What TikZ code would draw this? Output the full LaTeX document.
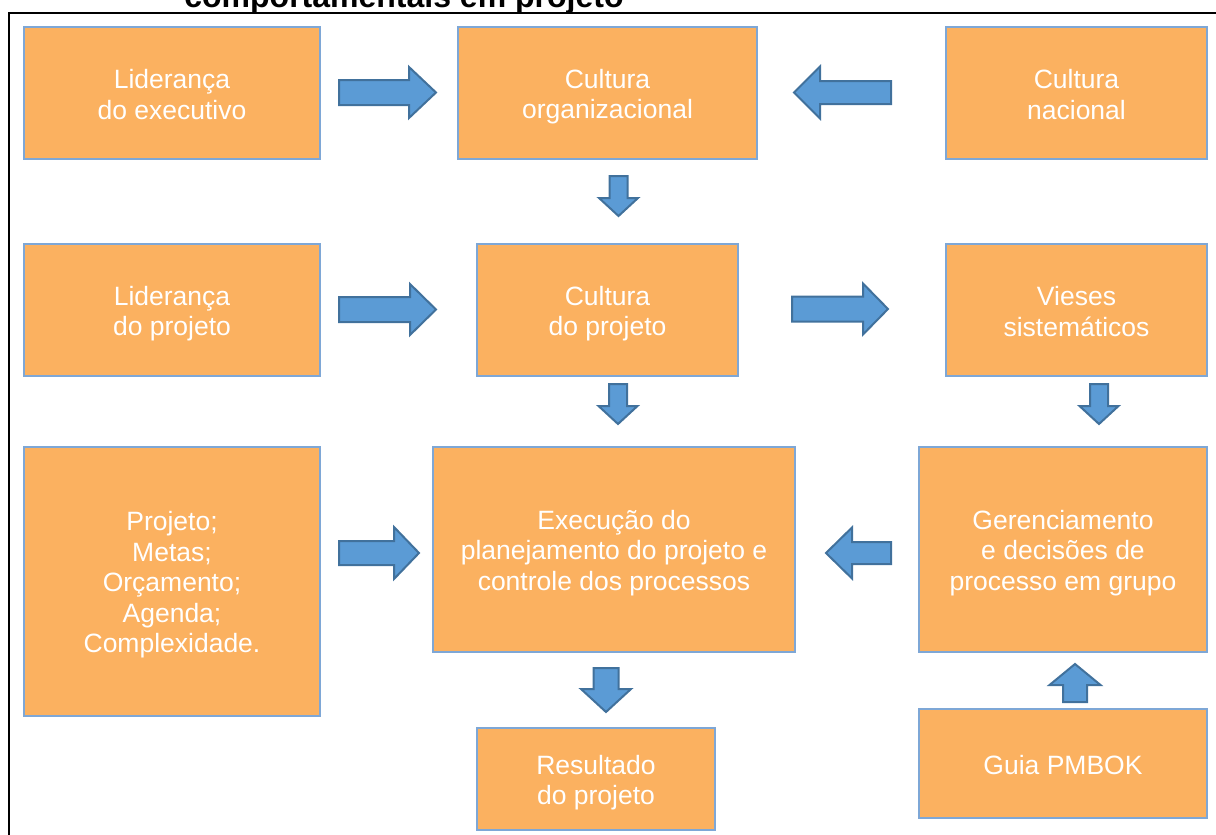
\documentclass[tikz,border=0pt]{standalone}
\usepackage{fontspec}
\setmainfont{Liberation Sans}
\usetikzlibrary{calc}

\definecolor{boxfill}{RGB}{251,177,96}
\definecolor{boxline}{RGB}{126,167,214}
\definecolor{arrfill}{RGB}{91,155,213}
\definecolor{arrline}{RGB}{65,113,156}

% struts giving the first line a fixed ascent and the last a fixed descent
\newcommand{\topstrut}{\vrule height 26.25pt depth 0pt width 0pt}
\newcommand{\botstrut}{\vrule height 0pt depth 4.25pt width 0pt}

% Block arrow from #1 to #2: shaft half width #3, head half width #4, head length #5
\newcommand{\blockarrow}[5]{%
  \path[barrow]
    ($(#1)!#3pt!90:(#2)$) --
    ($($(#2)!#5pt!(#1)$)!#3pt!-90:(#1)$) --
    ($($(#2)!#5pt!(#1)$)!#4pt!-90:(#1)$) --
    (#2) --
    ($($(#2)!#5pt!(#1)$)!#4pt!90:(#1)$) --
    ($($(#2)!#5pt!(#1)$)!#3pt!90:(#1)$) --
    ($(#1)!#3pt!-90:(#2)$) -- cycle;}

\tikzset{
  box/.style={draw=boxline, fill=boxfill, line width=2pt, text=white,
    align=center, inner sep=0pt,
    font=\fontsize{26.5}{30.5}\selectfont},
  barrow/.style={draw=arrline, fill=arrfill, line width=2pt, line join=miter},
}

\begin{document}
\begin{tikzpicture}[x=1pt, y=-1pt]
\useasboundingbox (0,0) rectangle (1216,835);

% heading, partly outside the page
\node[anchor=base, font=\bfseries\fontsize{32}{36}\selectfont] (title) at (404,7) {comportamentais em projeto};

% frame
\draw[line width=2.5pt] (9,840) -- (9,13) -- (1220,13);

% first row
\node[box, minimum width=296pt, minimum height=132pt] (le) at (172,93) {\topstrut Liderança\\do executivo\botstrut};
\node[box, minimum width=299pt, minimum height=132pt] (co) at (607.5,93) {\topstrut Cultura\\organizacional\botstrut};
\node[box, minimum width=261pt, minimum height=132pt] (cn) at (1076.5,93) {\topstrut Cultura\\nacional\botstrut};

% second row
\node[box, minimum width=296pt, minimum height=132pt] (lp) at (172,310) {\topstrut Liderança\\do projeto\botstrut};
\node[box, minimum width=261pt, minimum height=132pt] (cp) at (607.5,310) {\topstrut Cultura\\do projeto\botstrut};
\node[box, minimum width=261pt, minimum height=132pt] (vs) at (1076.5,310) {\topstrut Vieses\\sistemáticos\botstrut};

% third row
\node[box, minimum width=296pt, minimum height=269pt] (pr) at (172,581.5) {\topstrut Projeto;\\Metas;\\Orçamento;\\Agenda;\\Complexidade.\botstrut};
\node[box, minimum width=362pt, minimum height=205pt] (ex) at (614,549.5) {\topstrut Execução do\\planejamento do projeto e\\controle dos processos\botstrut};
\node[box, minimum width=288pt, minimum height=205pt] (ge) at (1063,549.5) {\topstrut Gerenciamento\\e decisões de\\processo em grupo\botstrut};

% last row
\node[box, minimum width=238pt, minimum height=102pt] (re) at (596,779) {\topstrut Resultado\\do projeto\botstrut};
\node[box, minimum width=288pt, minimum height=109pt] (pm) at (1063,763.5) {\topstrut Guia PMBOK\botstrut};

% arrow end points
\coordinate (a1s) at ($(le.east)+(18,-0.5)$);
\coordinate (a1e) at ($(co.west)+(-21,-0.5)$);
\coordinate (a2s) at ($(cn.west)+(-54,-0.5)$);
\coordinate (a2e) at ($(co.east)+(36,-0.5)$);
\coordinate (a3s) at ($(co.south)+(11,16)$);
\coordinate (a3e) at ($(co.south)+(11,56)$);
\coordinate (a4s) at ($(lp.east)+(18,-0.5)$);
\coordinate (a4e) at ($(cp.west)+(-40,-0.5)$);
\coordinate (a5s) at ($(cp.east)+(53,-1)$);
\coordinate (a5e) at ($(vs.west)+(-57,-1)$);
\coordinate (a6s) at ($(cp.south)+(10.5,7)$);
\coordinate (a6e) at ($(cp.south)+(10.5,47)$);
\coordinate (a7s) at ($(vs.south)+(22.5,7)$);
\coordinate (a7e) at ($(vs.south)+(22.5,47)$);
\coordinate (a8s) at ($(pr.east |- ex.west)+(18,3.5)$);
\coordinate (a8e) at ($(ex.west)+(-13,3.5)$);
\coordinate (a9s) at ($(ge.west)+(-27,3.5)$);
\coordinate (a9e) at ($(ex.east)+(30,3.5)$);
\coordinate (a10s) at ($(ex.south)+(-8,15)$);
\coordinate (a10e) at ($(ex.south)+(-8,59)$);
\coordinate (a11s) at ($(pm.north)+(12,-6)$);
\coordinate (a11e) at ($(ge.south)+(12,11)$);

% block arrows
\blockarrow{a1s}{a1e}{12.5}{25.5}{27}
\blockarrow{a2s}{a2e}{11.5}{26}{26}
\blockarrow{a3s}{a3e}{9}{19.5}{18}
\blockarrow{a4s}{a4e}{12.5}{25.5}{26}
\blockarrow{a5s}{a5e}{12.5}{25.5}{25}
\blockarrow{a6s}{a6e}{9}{19.5}{18}
\blockarrow{a7s}{a7e}{9}{19.5}{18}
\blockarrow{a8s}{a8e}{12}{26}{25}
\blockarrow{a9s}{a9e}{11}{25.5}{26}
\blockarrow{a10s}{a10e}{12.5}{25}{23}
\blockarrow{a11s}{a11e}{12}{25.5}{21}
\end{tikzpicture}
\end{document}
